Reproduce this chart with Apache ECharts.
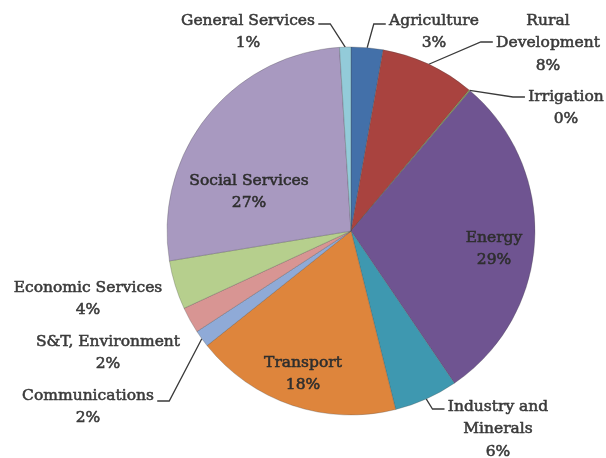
<!DOCTYPE html>
<html>
<head>
<meta charset="utf-8">
<script src="https://cdn.jsdelivr.net/npm/echarts@6/dist/echarts.min.js"></script>
<style>
  html, body { margin: 0; padding: 0; background: #ffffff; }
  #chart { width: 606px; height: 458px; }
</style>
</head>
<body>
<div id="chart"></div>
<script>
// Plan outlay by sector (share of total, %)
const sectors = [
  'Agriculture', 'Rural Development', 'Irrigation', 'Energy',
  'Industry and Minerals', 'Transport', 'Communications',
  'S&T, Environment', 'Economic Services', 'Social Services', 'General Services'
];
const shares = [2.8, 8.3, 0.1, 29.3, 5.6, 18.2, 1.5, 2.3, 4.3, 26.6, 1.0];
const sliceColors = [
  '#4370a9', '#a9433f', '#8aab4f', '#6f5491', '#3e98b0', '#de853c',
  '#8faad7', '#d89593', '#b6cf8d', '#a899c0', '#93cbd9'
];

// How long names break across lines in their labels
const wrapped = {
  'Rural Development': 'Rural\nDevelopment',
  'Industry and Minerals': 'Industry and\nMinerals'
};

// Label placement: centre of each text block, and the height where its leader line meets it
const labelPlacement = {
  'General Services':      { x: 248, y: 32,  lineY: 24,  side: 'left' },
  'Agriculture':           { x: 434, y: 32,  lineY: 24,  side: 'right' },
  'Rural Development':     { x: 548, y: 43,  lineY: 42,  side: 'right' },
  'Irrigation':            { x: 566, y: 108, lineY: 97,  side: 'right' },
  'Energy':                { x: 494, y: 249, inside: true },
  'Industry and Minerals': { x: 498, y: 429, lineY: 409, side: 'right' },
  'Transport':             { x: 303, y: 374, inside: true },
  'Communications':        { x: 88,  y: 407, lineY: 401, side: 'left' },
  'S&T, Environment':      { x: 108, y: 353 },
  'Economic Services':     { x: 88,  y: 299 },
  'Social Services':       { x: 249, y: 192, inside: true }
};

const outsideText = '#3a3a3a';
const insideText = '#2e2e2e';

const pieData = sectors.map(function (name, i) {
  const pl = labelPlacement[name];
  const c = pl.inside ? insideText : outsideText;
  return {
    name: name,
    value: shares[i],
    itemStyle: { color: sliceColors[i] },
    label: {
      position: pl.inside ? 'inside' : 'outside',
      color: c,
      textBorderColor: c,
      textBorderWidth: 0.55
    },
    labelLine: { show: !!pl.side }
  };
});

const chart = echarts.init(document.getElementById('chart'), null, { renderer: 'canvas' });
chart.setOption({
  backgroundColor: '#ffffff',
  animation: false,
  series: [{
    type: 'pie',
    center: [351, 231],
    radius: 184,
    startAngle: 90,
    clockwise: true,
    percentPrecision: 0,
    avoidLabelOverlap: false,
    emphasis: { disabled: true },
    itemStyle: { borderColor: 'rgba(70,70,70,0.4)', borderWidth: 0.7 },
    label: {
      fontFamily: 'DejaVu Serif',
      fontSize: 15.5,
      lineHeight: 22.5,
      align: 'center',
      formatter: function (p) {
        return (wrapped[p.name] || p.name) + '\n' + p.percent + '%';
      }
    },
    labelLine: {
      lineStyle: { color: '#3a3a3a', width: 1.3 },
      smooth: false
    },
    labelLayout: function (p) {
      const pl = labelPlacement[sectors[p.dataIndex]];
      const out = { x: pl.x, y: pl.y, align: 'center', verticalAlign: 'middle', hideOverlap: false };
      if (pl.side && p.labelLinePoints) {
        const half = p.labelRect.width / 2;
        const edge = pl.side === 'right' ? pl.x - half - 3 : pl.x + half + 3;
        const dir = pl.side === 'right' ? -1 : 1;
        out.labelLinePoints = [
          p.labelLinePoints[0],
          [edge + dir * 12, pl.lineY],
          [edge, pl.lineY]
        ];
      }
      return out;
    },
    data: pieData
  }]
});
</script>
</body>
</html>
